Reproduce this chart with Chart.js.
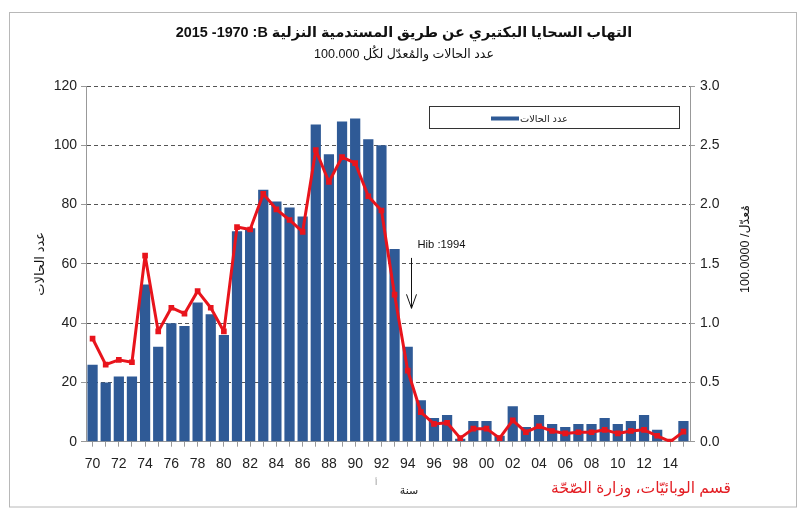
<!DOCTYPE html>
<html><head><meta charset="utf-8">
<script src="https://cdn.jsdelivr.net/npm/chart.js@4.4.1/dist/chart.umd.min.js"></script>
<style>html,body{margin:0;padding:0;background:#fff;}#wrap{width:800px;height:518px;}</style>
</head><body><div id="wrap"><canvas id="c" width="800" height="518"></canvas></div>
<script>
const yearLabels = ['70','71','72','73','74','75','76','77','78','79','80','81','82','83','84','85','86','87','88','89','90','91','92','93','94','95','96','97','98','99','00','01','02','03','04','05','06','07','08','09','10','11','12','13','14','15'];
const cases = [26,20,22,22,53,32,40,39,47,43,36,71,72,85,81,79,76,107,97,108,109,102,100,65,32,14,8,9,1,7,7,2,12,5,9,6,5,6,6,8,6,7,9,4,0,7];
const rates = [0.87,0.65,0.69,0.67,1.57,0.93,1.13,1.08,1.27,1.13,0.93,1.81,1.79,2.09,1.96,1.87,1.77,2.46,2.19,2.40,2.35,2.07,1.95,1.24,0.60,0.25,0.15,0.16,0.03,0.11,0.11,0.03,0.18,0.08,0.13,0.09,0.07,0.08,0.08,0.10,0.07,0.09,0.10,0.05,0.00,0.085];
const titleText = '2015 -1970 :B التهاب السحايا البكتيري عن طريق المستدمية النزلية';
const subtitleText = '100.000 عدد الحالات والمُعدّل لكُل';
const leftAxisTitle = 'عدد الحالات';
const rightAxisTitle = '100.0000 /مُعدّل';
const legendLabel = 'عدد الحالات';
const xAxisTitle = 'سنة';
const sourceText = 'قسم الوبائيّات، وزارة الصّحّة';
const annotationText = 'Hib :1994';
const annotationIndex = 24;

const FF = "'Liberation Sans', 'DejaVu Sans', sans-serif";
const mctx = document.createElement('canvas').getContext('2d');
function fitSize(text, weight, target) {
  mctx.font = weight + ' 20px ' + FF;
  const w = mctx.measureText(text).width;
  return 20 * target / w;
}
const sTitle = fitSize(titleText, 'bold', 457);
const sSub = fitSize(subtitleText, 'normal', 180);
const sLeft = fitSize(leftAxisTitle, 'normal', 64);
const sRight = fitSize(rightAxisTitle, 'normal', 88);
const sLegend = fitSize(legendLabel, 'normal', 48);
const sSource = fitSize(sourceText, 'normal', 180);
const sAnn = fitSize(annotationText, 'normal', 48);

const titleCenter = 33, subCenter = 55, areaTop = 86;
const tPadTop = titleCenter - 0.6 * sTitle;
const titleBottom = titleCenter + 0.6 * sTitle;
const sPadTop = subCenter - 0.6 * sSub - titleBottom;
const sPadBottom = areaTop - (subCenter + 0.6 * sSub);

const extras = {
  id: 'extras',
  afterDraw(chart) {
    const ctx = chart.ctx;
    const x = chart.scales.x, y = chart.scales.y;
    ctx.save();
    // frame
    ctx.strokeStyle = '#b8b8b8'; ctx.lineWidth = 1;
    ctx.strokeRect(9.5, 12.5, 787, 494.5);
    // legend box
    ctx.strokeStyle = '#333'; ctx.strokeRect(429.5, 106.5, 250, 22);
    ctx.fillStyle = '#2f5a96'; ctx.fillRect(491, 116.5, 28, 4);
    ctx.fillStyle = '#222'; ctx.font = sLegend + 'px ' + FF;
    ctx.textAlign = 'left'; ctx.textBaseline = 'middle';
    ctx.fillText(legendLabel, 520, 119);
    // right axis title, rotated reading bottom-to-top
    ctx.save();
    ctx.translate(746, 249); ctx.rotate(-Math.PI / 2);
    ctx.font = sRight + 'px ' + FF; ctx.textAlign = 'center'; ctx.fillStyle = '#111';
    ctx.fillText(rightAxisTitle, 0, 0);
    ctx.restore();
    // x axis title
    ctx.font = '11px ' + FF; ctx.textAlign = 'center'; ctx.fillStyle = '#222';
    ctx.fillText(xAxisTitle, 409, 491);
    ctx.font = '8px ' + FF; ctx.fillStyle = '#888';
    ctx.fillText('أ', 376, 483);
    // source
    ctx.font = sSource + 'px ' + FF; ctx.fillStyle = '#e31e24'; ctx.textAlign = 'center';
    ctx.fillText(sourceText, 641, 489);
    // annotation
    const ax = Math.round(x.getPixelForValue(annotationIndex) + 3) + 0.5;
    const ay1 = y.getPixelForValue(62), ay2 = y.getPixelForValue(45);
    ctx.font = sAnn + 'px ' + FF; ctx.fillStyle = '#111'; ctx.textAlign = 'left';
    ctx.fillText(annotationText, ax + 6, y.getPixelForValue(66.3));
    ctx.strokeStyle = '#111'; ctx.lineWidth = 1;
    ctx.beginPath();
    ctx.moveTo(ax, ay1); ctx.lineTo(ax, ay2);
    ctx.moveTo(ax - 5, ay2 - 14); ctx.lineTo(ax, ay2); ctx.lineTo(ax + 5, ay2 - 14);
    ctx.stroke();
    ctx.restore();
  }
};

new Chart(document.getElementById('c'), {
  type: 'bar',
  data: {
    labels: yearLabels,
    datasets: [
      { type: 'line', label: 'rate', data: rates, yAxisID: 'y1', order: 0,
        borderColor: '#e8141c', backgroundColor: '#e8141c', borderWidth: 3,
        borderJoinStyle: 'round', borderCapStyle: 'round',
        pointStyle: 'rect', pointRadius: 4, pointBackgroundColor: '#e8141c', pointBorderWidth: 0, tension: 0 },
      { type: 'bar', label: legendLabel, data: cases, yAxisID: 'y', order: 1,
        backgroundColor: '#2f5a96', barPercentage: 0.78, categoryPercentage: 1 }
    ]
  },
  options: {
    responsive: false, animation: false, devicePixelRatio: 1,
    layout: { padding: { top: 0, left: 8, right: 0, bottom: 0 } },
    plugins: {
      legend: { display: false }, tooltip: { enabled: false },
      title: { display: true, text: titleText, color: '#111',
        font: { family: FF, size: sTitle, weight: 'bold', lineHeight: 1.2 },
        padding: { top: tPadTop, bottom: 0 } },
      subtitle: { display: true, text: subtitleText, color: '#111',
        font: { family: FF, size: sSub, weight: 'normal', lineHeight: 1.2 },
        padding: { top: sPadTop, bottom: sPadBottom } }
    },
    scales: {
      x: {
        afterFit(s) { s.height = 518 - 441.7; },
        grid: { display: true, drawOnChartArea: false, offset: false, tickLength: 5, tickColor: '#999' },
        border: { color: '#999' },
        ticks: { autoSkip: false, maxRotation: 0, minRotation: 0, padding: 9, color: '#222',
          font: { family: FF, size: 14 },
          callback: (v, i) => (i % 2 === 0 ? yearLabels[i] : '') }
      },
      y: {
        position: 'left', min: 0, max: 120,
        afterFit(s) { s.width = 78; },
        grid: { color: (c) => (c.tick && c.tick.value === 0 ? 'rgba(0,0,0,0)' : '#555'), tickLength: 5, tickColor: '#999' },
        border: { color: '#999', dash: [4, 3] },
        ticks: { stepSize: 20, padding: 4, color: '#222', font: { family: FF, size: 14 } },
        title: { display: true, text: leftAxisTitle, color: '#111',
          font: { family: FF, size: sLeft }, padding: { top: 40 - 8 - sLeft * 0.6, bottom: 0 } }
      },
      y1: {
        position: 'right', min: 0, max: 3,
        afterFit(s) { s.width = 110; },
        grid: { drawOnChartArea: false, tickLength: 5, tickColor: '#999' },
        border: { color: '#999' },
        ticks: { stepSize: 0.5, padding: 5, color: '#222', font: { family: FF, size: 14 },
          callback: (v) => Number(v).toFixed(1) }
      }
    }
  },
  plugins: [extras]
});
</script>
</body></html>
